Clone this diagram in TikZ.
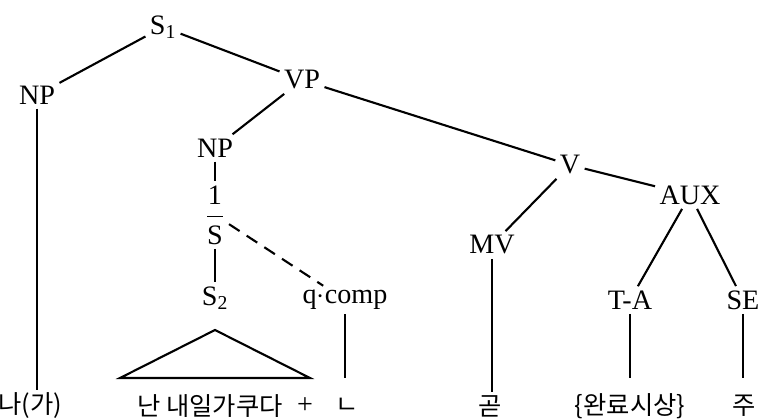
\documentclass[tikz,border=0pt]{standalone}
\usepackage{amsmath}
\usepackage{fontspec}
\setmainfont{Liberation Serif}
\newfontfamily\kor{Noto Sans CJK KR}
\usepackage{tikz}
\tikzset{
  cat/.style={inner sep=3pt,font=\fontsize{20}{24}\selectfont},
  leaf/.style={inner sep=2pt,font=\kor\fontsize{18}{22}\selectfont},
  branch/.style={line width=1.5pt},
  dashbranch/.style={line width=1.5pt,dash pattern=on 9pt off 6pt}
}

\begin{document}
\begin{tikzpicture}[x=0.025cm,y=-0.025cm]
        \useasboundingbox (0,0) rectangle (769,419);
        % categories
        \node[cat] (s1) at (163,27) {S\textsubscript{1}};
        \node[cat] (np1) at (37,95) {NP};
        \node[cat] (vp) at (302,80) {VP};
        \node[cat] (np2) at (215,148) {NP};
        \node[cat] (sbar) at (215,215) {$\dfrac{\text{1}}{\text{S}}$};
        \node[cat] (s2) at (215,298) {S\textsubscript{2}};
        \node[cat] (qc) at (345,300) {q$\cdot$comp};
        \node[cat] (v) at (570,165) {V};
        \node[cat] (mv) at (492,245) {MV};
        \node[cat] (aux) at (690,195) {AUX};
        \node[cat] (ta) at (630,300) {T-A};
        \node[cat] (se) at (743,300) {SE};
        % leaves
        \node[leaf] (l1) at (30,406) {나(가)};
        \node[leaf] (l2) at (210,406) {난 내일가쿠다};
        \node[cat] (plus) at (305,406) {+};
        \node[leaf] (l3) at (347,406) {ㄴ};
        \node[leaf] (l4) at (490,406) {곧};
        \node[leaf] (l5) at (630,406) {\{완료시상\}};
        \node[leaf] (l6) at (744,406) {주};
        \coordinate (tri) at (215,330);
        \coordinate (triL) at (120,378);
        \coordinate (triR) at (310,378);
        % branches
        \draw[branch] (s1) -- (np1);
        \draw[branch] (s1) -- (vp);
        \draw[branch] (vp) -- (np2);
        \draw[branch] (vp) -- (v);
        \draw[branch] (np2) -- (sbar);
        \draw[branch] (sbar) -- (s2);
        \draw[dashbranch] (sbar) -- (qc);
        \draw[branch] (v) -- (mv);
        \draw[branch] (v) -- (aux);
        \draw[branch] (aux) -- (ta);
        \draw[branch] (aux) -- (se);
        \draw[branch] (tri) -- (triL) -- (triR) -- cycle;
        \draw[branch] (np1.south) -- (np1.south |- l1.north);
        \draw[branch] (mv.south) -- (mv.south |- l4.north);
        \draw[branch] (qc.south) -- (qc.south |- triR);
        \draw[branch] (ta.south) -- (ta.south |- triR);
        \draw[branch] (se.south) -- (se.south |- triR);
    \end{tikzpicture}
\end{document}
